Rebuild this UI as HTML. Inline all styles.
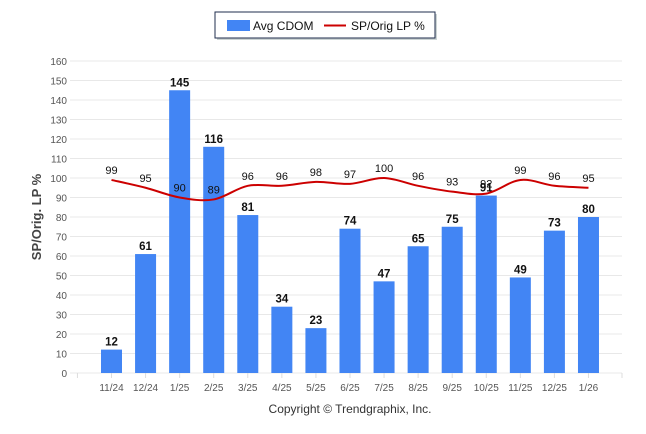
<!DOCTYPE html>
<html><head><meta charset="utf-8"><style>
body{margin:0;background:#fff;}
svg{display:block;font-family:"Liberation Sans",Arial,sans-serif;}
</style></head><body>
<svg id="chart" width="646" height="434" viewBox="0 0 646 434" xmlns="http://www.w3.org/2000/svg">
<g>
<rect x="217" y="14" width="220" height="26" fill="#9aa" opacity="0.5"/>
<rect x="215" y="12" width="220" height="26" fill="#fff" stroke="#1f2d4d" stroke-width="1"/>
<rect x="227" y="20" width="23" height="11" fill="#4285f4"/>
<text x="253" y="30" font-size="12" fill="#111">Avg CDOM</text>
<line x1="324" y1="25.5" x2="346" y2="25.5" stroke="#c00" stroke-width="2"/>
<text x="351" y="30" font-size="12" fill="#111">SP/Orig LP %</text>
</g>
<g id="grid"></g>
<g id="bars"></g>
<g id="line"></g>
<text transform="translate(41,217) rotate(-90)" text-anchor="middle" font-size="13" font-weight="bold" fill="#444">SP/Orig. LP %</text>
<text x="350" y="413" text-anchor="middle" font-size="12" fill="#333">Copyright © Trendgraphix, Inc.</text>
</svg>
<script>
const categories=["11/24","12/24","1/25","2/25","3/25","4/25","5/25","6/25","7/25","8/25","9/25","10/25","11/25","12/25","1/26"];
const cdom=[12,61,145,116,81,34,23,74,47,65,75,91,49,73,80];
const spOrig=[99,95,90,89,96,96,98,97,100,96,93,92,99,96,95];
const yTicks=[0,10,20,30,40,50,60,70,80,90,100,110,120,130,140,150,160];
const NS="http://www.w3.org/2000/svg";
const y=v=>373-v*1.95;
const x=i=>111.5+i*34.07;
function mk(tag,attrs,parent,text){const e=document.createElementNS(NS,tag);for(const k in attrs)e.setAttribute(k,attrs[k]);if(text!==undefined)e.textContent=text;parent.appendChild(e);return e;}
const grid=document.getElementById('grid');
yTicks.forEach(t=>{
 const l=mk('line',{x1:70,x2:622,y1:y(t),y2:y(t),stroke:'#e8e8e8','stroke-width':1},grid);
 
 
 const tx=mk('text',{x:67,y:y(t)+4,'text-anchor':'end','font-size':10,fill:'#555'},grid,String(t));
 
 
});
const tickXs=[x(-1),...categories.map((c,i)=>x(i)),622];
tickXs.forEach(tx0=>{
 const tk=mk('line',{x1:tx0,x2:tx0,y1:373,y2:378,stroke:'#ddd'},grid);
 
 
});
const bars=document.getElementById('bars');
categories.forEach((c,i)=>{
 const r=mk('rect',{x:x(i)-10.5,y:y(cdom[i]),width:21,height:373-y(cdom[i]),fill:'#4285f4'},bars);
 
 
 const t=mk('text',{x:x(i),y:y(cdom[i])-4,'text-anchor':'middle','font-size':11.5,'font-weight':'bold',fill:'#111'},bars,String(cdom[i]));
 
 
 const xl=mk('text',{x:x(i),y:391,'text-anchor':'middle','font-size':10,fill:'#555'},bars,c);
 
 
});
const lg=document.getElementById('line');
const pts=spOrig.map((v,i)=>[x(i),y(v)]);
let d='M'+pts[0][0]+','+pts[0][1];
for(let i=0;i<pts.length-1;i++){
 const p0=pts[Math.max(0,i-1)],p1=pts[i],p2=pts[i+1],p3=pts[Math.min(pts.length-1,i+2)];
 const c1=[p1[0]+(p2[0]-p0[0])/6,p1[1]+(p2[1]-p0[1])/6],c2=[p2[0]-(p3[0]-p1[0])/6,p2[1]-(p3[1]-p1[1])/6];
 d+=' C'+c1+' '+c2+' '+p2;
}
const path=mk('path',{d:d,fill:'none',stroke:'#c00','stroke-width':2},lg);


spOrig.forEach((v,i)=>{
 const t=mk('text',{x:x(i),y:y(v)-6,'text-anchor':'middle','font-size':11,fill:'#111'},lg,String(v));
 
 
});
</script>
</body></html>
